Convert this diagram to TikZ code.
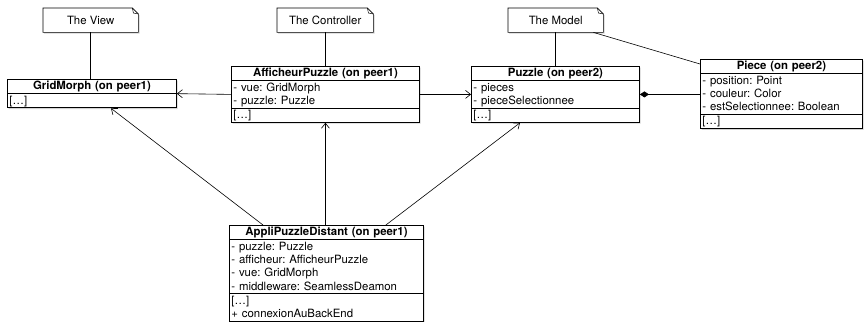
\documentclass[tikz,border=0pt]{standalone}
\usepackage{fontspec}
\setmainfont{TeX Gyre Heros}
\usetikzlibrary{shapes.multipart,arrows.meta,shadows,backgrounds,calc}

\newcommand{\rw}{\rule[-3.3pt]{0pt}{13.3pt}}
\newcommand{\ttl}[1]{\rw\hfill\textbf{#1}\hfill\null}

\tikzset{
  umlclass/.style={rectangle split, rectangle split parts=#1, draw, line width=0.9pt,
    fill=white, inner xsep=2pt, inner ysep=0pt, align=left, anchor=north west,
    font=\fontsize{11.4}{13.3}\selectfont\frenchspacing,
    drop shadow={shadow xshift=1.2pt,shadow yshift=-1.2pt,fill=black!35}},
  umlnote/.style={minimum height=24pt, inner sep=0pt, anchor=north west,
    font=\fontsize{11.4}{13.3}\selectfont},
  link/.style={line width=0.6pt},
  uses/.style={link, -{Straight Barb[length=5pt,width=8pt]}},
  compo/.style={link, {Diamond[length=9pt,width=6pt]}-}
}

\begin{document}
\begin{tikzpicture}[x=1pt,y=-1pt]
\useasboundingbox (0,0) rectangle (864,321);
% notes
\node[umlnote, minimum width=95pt] (view) at (43,8) {The View};
\node[umlnote, minimum width=96pt] (ctrl) at (277,8) {The Controller};
\node[umlnote, minimum width=95pt] (model) at (508,8) {The Model};
\begin{pgfonlayer}{background}
\foreach \n in {view,ctrl,model} {
  \draw [line width=0.6pt, fill=white, drop shadow={shadow xshift=1.2pt,shadow yshift=-1.2pt,fill=black!35}]
    (\n.north west) -- ([xshift=-6pt]\n.north east) -- ([yshift=-6pt]\n.north east)
    -- (\n.south east) -- (\n.south west) -- cycle;
  \draw [line width=0.5pt] ([xshift=-6pt]\n.north east) -- ([xshift=-5pt,yshift=-5pt]\n.north east) -- ([yshift=-6pt]\n.north east);
}
\end{pgfonlayer}
% classes
\node[umlclass=2, text width=165pt] (grid) at (7,79)
  {\ttl{GridMorph (on peer1)}
   \nodepart{two}\rw[…]};
\node[umlclass=3, text width=184pt] (aff) at (231,66)
  {\ttl{AfficheurPuzzle (on peer1)}
   \nodepart{two}\rw- vue: GridMorph\\\rw- puzzle: Puzzle
   \nodepart{three}\rw[…]};
\node[umlclass=3, text width=164pt] (puzzle) at (471,66)
  {\ttl{Puzzle (on peer2)}
   \nodepart{two}\rw- pieces\\\rw- pieceSelectionnee
   \nodepart{three}\rw[…]};
\node[umlclass=3, text width=158pt] (piece) at (700,59)
  {\ttl{Piece (on peer2)}
   \nodepart{two}\rw- position: Point\\\rw- couleur: Color\\\rw- estSelectionnee: Boolean
   \nodepart{three}\rw[…]};
\node[umlclass=3, text width=190pt] (appli) at (229,225)
  {\ttl{AppliPuzzleDistant (on peer1)}
   \nodepart{two}\rw- puzzle: Puzzle\\\rw- afficheur: AfficheurPuzzle\\\rw- vue: GridMorph\\\rw- middleware: SeamlessDeamon
   \nodepart{three}\rw[…]\\\rw+ connexionAuBackEnd};
% note links
\draw [link] (view.south) -- (view.south |- grid.north);
\draw [link] (ctrl.south) -- (ctrl.south |- aff.north);
\draw [link] (model.south) -- (model.south |- puzzle.north);
\draw [link] ($(model.south east)+(-10,0)$) -- ($(piece.north west)+(0,5)$);
% associations
\draw [uses] (aff.west) -- (grid.east);
\draw [uses] (aff.east) -- (puzzle.west);
\draw [compo] (puzzle.east) -- (puzzle.east -| piece.west);
\draw [uses] ($(appli.north west)+(34,0)$) -- ($(grid.south west)+(104,0)$);
\draw [uses] (aff.south |- appli.north) -- (aff.south);
\draw [uses] ($(appli.north east)+(-38,0)$) -- ($(puzzle.south west)+(49,0)$);
\end{tikzpicture}
\end{document}
